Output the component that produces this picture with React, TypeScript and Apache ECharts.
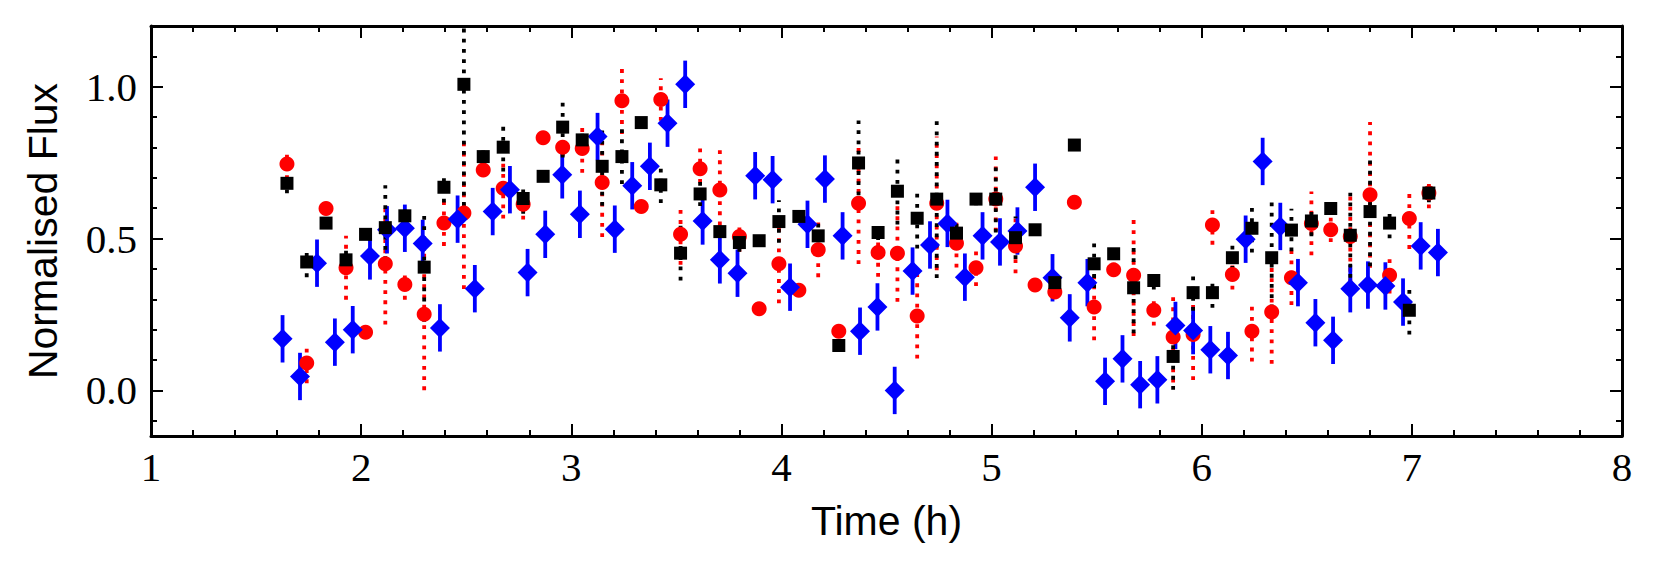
import React, { useEffect, useRef } from "react";
import * as echarts from "echarts";

// ---- data ----
const TIME_RB = [
  1.647, 1.741, 1.833, 1.928, 2.021, 2.115, 2.208, 2.3, 2.394, 2.489,
  2.581, 2.676, 2.771, 2.866, 2.959, 3.052, 3.147, 3.241, 3.333, 3.426,
  3.52, 3.613, 3.707, 3.8, 3.894, 3.988, 4.083, 4.175, 4.273, 4.367,
  4.46, 4.552, 4.646, 4.739, 4.833, 4.926, 5.02, 5.114, 5.207, 5.301,
  5.394, 5.488, 5.581, 5.676, 5.772, 5.864, 5.959, 6.051, 6.146, 6.239,
  6.333, 6.427, 6.522, 6.614, 6.707, 6.801, 6.894, 6.988, 7.081,
];
const RED_FLUX = [
  0.746, 0.09, 0.599, 0.404, 0.192, 0.417, 0.349, 0.251, 0.551, 0.584,
  0.726, 0.666, 0.613, 0.832, 0.801, 0.797, 0.685, 0.954, 0.606, 0.958,
  0.514, 0.73, 0.66, 0.507, 0.269, 0.417, 0.33, 0.463, 0.195, 0.616,
  0.454, 0.452, 0.245, 0.616, 0.485, 0.404, 0.63, 0.476, 0.347, 0.324,
  0.62, 0.275, 0.397, 0.379, 0.264, 0.176, 0.184, 0.545, 0.382, 0.195,
  0.258, 0.371, 0.55, 0.529, 0.507, 0.644, 0.379, 0.566, 0.65,
];
const RED_ERR = [
  0.05, 0.066, 0.01, 0.105, 0.01, 0.2, 0.05, 0.25, 0.075, 0.25,
  0.02, 0.1, 0.05, 0.01, 0.03, 0.08, 0.18, 0.11, 0.01, 0.07,
  0.1, 0.08, 0.15, 0.05, 0.01, 0.13, 0.01, 0.09, 0.01, 0.2,
  0.08, 0.16, 0.14, 0.22, 0.08, 0.06, 0.14, 0.09, 0.01, 0.01,
  0.01, 0.11, 0.01, 0.2, 0.05, 0.15, 0.15, 0.065, 0.05, 0.1,
  0.17, 0.09, 0.105, 0.04, 0.15, 0.24, 0.06, 0.1, 0.05,
];
const BLACK_FLUX = [
  0.682, 0.423, 0.551, 0.43, 0.514, 0.536, 0.575, 0.406, 0.669, 1.008,
  0.77, 0.801, 0.632, 0.705, 0.867, 0.825, 0.738, 0.77, 0.882, 0.677,
  0.452, 0.647, 0.523, 0.487, 0.493, 0.556, 0.573, 0.509, 0.148, 0.749,
  0.52, 0.656, 0.567, 0.63, 0.518, 0.63, 0.63, 0.503, 0.529, 0.355,
  0.808, 0.417, 0.45, 0.338, 0.362, 0.112, 0.322, 0.322, 0.437, 0.534,
  0.437, 0.528, 0.558, 0.599, 0.511, 0.589, 0.551, 0.264, 0.65,
];
const BLACK_ERR = [
  0.033, 0.05, 0.01, 0.05, 0.01, 0.14, 0.02, 0.18, 0.05, 0.4,
  0.02, 0.08, 0.05, 0.01, 0.1, 0.02, 0.13, 0.09, 0.01, 0.06,
  0.09, 0.04, 0.02, 0.03, 0.01, 0.07, 0.01, 0.04, 0.01, 0.14,
  0.025, 0.11, 0.1, 0.26, 0.05, 0.02, 0.11, 0.07, 0.01, 0.01,
  0.01, 0.08, 0.01, 0.15, 0.03, 0.11, 0.06, 0.05, 0.04, 0.08,
  0.2, 0.07, 0.05, 0.01, 0.14, 0.18, 0.05, 0.08, 0.03,
];
const TIME_B = [
  1.626, 1.709, 1.79, 1.875, 1.96, 2.042, 2.123, 2.208, 2.293, 2.375,
  2.459, 2.541, 2.626, 2.708, 2.792, 2.876, 2.957, 3.041, 3.125, 3.207,
  3.29, 3.374, 3.458, 3.542, 3.625, 3.707, 3.791, 3.875, 3.958, 4.041,
  4.124, 4.207, 4.291, 4.374, 4.457, 4.539, 4.624, 4.707, 4.79, 4.873,
  4.957, 5.04, 5.123, 5.207, 5.29, 5.372, 5.456, 5.54, 5.623, 5.707,
  5.789, 5.875, 5.959, 6.041, 6.125, 6.209, 6.29, 6.374, 6.458, 6.541,
  6.625, 6.707, 6.791, 6.874, 6.958, 7.042, 7.124,
];
const BLUE_FLUX = [
  0.17, 0.046, 0.419, 0.159, 0.2, 0.443, 0.529, 0.534, 0.484, 0.206,
  0.564, 0.335, 0.589, 0.661, 0.388, 0.514, 0.71, 0.58, 0.836, 0.531,
  0.674, 0.738, 0.88, 1.008, 0.558, 0.43, 0.386, 0.707, 0.694, 0.34,
  0.547, 0.696, 0.509, 0.195, 0.275, 0.0, 0.393, 0.479, 0.55, 0.373,
  0.509, 0.489, 0.525, 0.669, 0.371, 0.239, 0.355, 0.03, 0.104, 0.019,
  0.035, 0.214, 0.197, 0.134, 0.115, 0.498, 0.754, 0.54, 0.355, 0.223,
  0.165, 0.335, 0.347, 0.344, 0.291, 0.476, 0.454,
];
const BLUE_ERR = 0.078;

const X_MIN = 1;
const X_MAX = 8;
const Y_MIN = -0.15;
const Y_MAX = 1.2;
const X_TITLE = "Time (h)";
const Y_TITLE = "Normalised Flux";

const SERIF = "'Liberation Serif', 'DejaVu Serif', serif";
const SANS = "'Liberation Sans', 'DejaVu Sans', sans-serif";

function errSeries(xs: number[], ys: number[], es: number[] | number, color: string, dashed: boolean) {
  return {
    type: "custom",
    xAxisIndex: 0,
    yAxisIndex: 0,
    clip: true,
    silent: true,
    data: xs.map((x, i) => [x, ys[i], Array.isArray(es) ? es[i] : es]),
    encode: { x: 0, y: 1 },
    renderItem: (_params: any, api: any) => {
      const x = api.value(0);
      const y = api.value(1);
      const e = api.value(2);
      const p1 = api.coord([x, Math.max(y - e, Y_MIN)]);
      const p2 = api.coord([x, Math.min(y + e, Y_MAX)]);
      return {
        type: "line",
        shape: { x1: p1[0], y1: p1[1], x2: p2[0], y2: p2[1] },
        style: {
          stroke: color,
          lineWidth: 3.8,
          lineDash: dashed ? [3.8, 6.4] : null,
          lineCap: "butt",
        },
      };
    },
  };
}

function markerSeries(xs: number[], ys: number[], color: string, symbol: string, size: any) {
  return {
    type: "scatter",
    xAxisIndex: 0,
    yAxisIndex: 0,
    symbol,
    symbolSize: size,
    itemStyle: { color, opacity: 1 },
    silent: true,
    data: xs.map((x, i) => [x, ys[i]]),
  };
}

const frameLine = { show: true, onZero: false, lineStyle: { color: "#000", width: 3 } };
const majorTick = (len: number) => ({ show: true, inside: true, length: len, lineStyle: { color: "#000", width: 2 } });

export default function App() {
  const ref = useRef<HTMLDivElement>(null);
  useEffect(() => {
    document.body.style.margin = "0";
    const chart = echarts.init(ref.current!, null, { renderer: "svg" });
    const xCommon = {
      type: "value",
      min: X_MIN,
      max: X_MAX,
      interval: 1,
      splitLine: { show: false },
      axisLine: frameLine,
      axisTick: majorTick(12),
      minorTick: { show: true, splitNumber: 5, length: 6, lineStyle: { color: "#000", width: 2 } },
      minorSplitLine: { show: false },
    };
    const yMajor = (pos: string, labels: boolean) => ({
      type: "value",
      position: pos,
      min: Y_MIN,
      max: Y_MAX,
      minInterval: 0.5,
      maxInterval: 0.5,
      splitLine: { show: false },
      axisLine: frameLine,
      axisTick: majorTick(12),
      axisLabel: labels
        ? {
            show: true,
            showMinLabel: false,
            showMaxLabel: false,
            fontFamily: SERIF,
            fontSize: 41,
            color: "#000",
            margin: 14,
            formatter: (v: number) => v.toFixed(1),
          }
        : { show: false },
    });
    const yMinor = (pos: string) => ({
      type: "value",
      position: pos,
      min: Y_MIN,
      max: Y_MAX,
      minInterval: 0.1,
      maxInterval: 0.1,
      splitLine: { show: false },
      axisLine: { show: false, onZero: false },
      axisTick: majorTick(6),
      axisLabel: { show: false },
    });
    chart.setOption({
      animation: false,
      backgroundColor: "#fff",
      grid: { left: 151, right: 39, top: 26, bottom: 141, containLabel: false },
      xAxis: [
        {
          ...xCommon,
          position: "bottom",
          name: X_TITLE,
          nameLocation: "middle",
          nameGap: 64,
          nameTextStyle: { fontFamily: SANS, fontSize: 41, color: "#000" },
          axisLabel: { show: true, fontFamily: SERIF, fontSize: 41, color: "#000", margin: 10 },
        },
        { ...xCommon, position: "top", axisLabel: { show: false } },
      ],
      yAxis: [
        {
          ...yMajor("left", true),
          name: Y_TITLE,
          nameLocation: "middle",
          nameGap: 88,
          nameTextStyle: { fontFamily: SANS, fontSize: 41, color: "#000" },
        },
        yMajor("right", false),
        yMinor("left"),
        yMinor("right"),
      ],
      series: [
        errSeries(TIME_RB, RED_FLUX, RED_ERR, "#ff0000", true),
        markerSeries(TIME_RB, RED_FLUX, "#ff0000", "circle", 15),
        errSeries(TIME_B, BLUE_FLUX, BLUE_ERR, "#0000ff", false),
        markerSeries(TIME_B, BLUE_FLUX, "#0000ff", "diamond", 20),
        errSeries(TIME_RB, BLACK_FLUX, BLACK_ERR, "#000000", true),
        markerSeries(TIME_RB, BLACK_FLUX, "#000000", "rect", 13),
      ],
    });
    return () => chart.dispose();
  }, []);
  return <div ref={ref} style={{ width: 1661, height: 577 }} />;
}
